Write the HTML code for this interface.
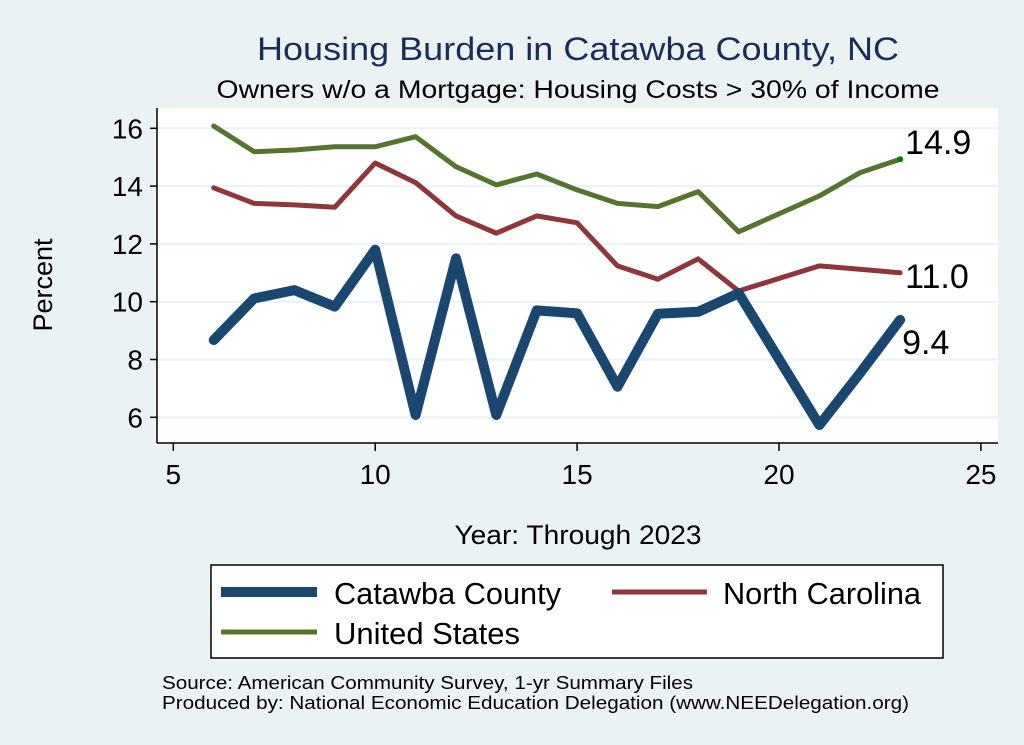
<!DOCTYPE html>
<html><head><meta charset="utf-8"><style>
html,body{margin:0;padding:0;background:#eaf2f3;}
svg{display:block;font-family:"Liberation Sans",Arial,sans-serif;}
</style></head><body>
<svg id="chart" width="1024" height="745" viewBox="0 0 1024 745">
<rect x="0" y="0" width="1024" height="745" fill="#eaf2f3"/>
<text x="578" y="60" text-anchor="middle" font-size="32" fill="#1a2d5a" textLength="642" lengthAdjust="spacingAndGlyphs">Housing Burden in Catawba County, NC</text>
<text x="578" y="98" text-anchor="middle" font-size="25" fill="#000" textLength="723" lengthAdjust="spacingAndGlyphs">Owners w/o a Mortgage: Housing Costs &gt; 30% of Income</text>
<rect x="157" y="108" width="841" height="335" fill="#fff"/>
<g id="grid"></g>
<g id="axes"></g>
<g id="series"></g>
<g id="labels"></g>
<text x="0" y="0" transform="translate(52,285) rotate(-90)" text-anchor="middle" font-size="27">Percent</text>
<text x="578" y="544" text-anchor="middle" font-size="27" textLength="247" lengthAdjust="spacingAndGlyphs">Year: Through 2023</text>
<g>
<rect x="211" y="565" width="732" height="93" fill="#fff" stroke="#000" stroke-width="1.5"/>
<line x1="221" y1="592" x2="317" y2="592" stroke="#1a476f" stroke-width="10"/>
<text x="334" y="604" font-size="31" textLength="227" lengthAdjust="spacingAndGlyphs">Catawba County</text>
<line x1="612" y1="592" x2="707" y2="592" stroke="#90353b" stroke-width="5"/>
<text x="723" y="604" font-size="31" textLength="198" lengthAdjust="spacingAndGlyphs">North Carolina</text>
<line x1="221" y1="632" x2="317" y2="632" stroke="#55752f" stroke-width="5"/>
<text x="334" y="644" font-size="31" textLength="186" lengthAdjust="spacingAndGlyphs">United States</text>
</g>
<text x="162" y="689" font-size="18" textLength="531" lengthAdjust="spacingAndGlyphs">Source: American Community Survey, 1-yr Summary Files</text>
<text x="162" y="709" font-size="18" textLength="747" lengthAdjust="spacingAndGlyphs">Produced by: National Economic Education Delegation (www.NEEDelegation.org)</text>
</svg>
<script>
const years = [6,7,8,9,10,11,12,13,14,15,16,17,18,19,21,22,23];
const catawba = [8.67,10.11,10.40,9.83,11.8,6.08,11.5,6.08,9.7,9.6,7.06,9.58,9.65,10.29,5.73,7.52,9.37];
const northCarolina = [13.94,13.4,13.35,13.27,14.8,14.12,12.97,12.37,12.97,12.73,11.24,10.78,11.48,10.37,11.24,11.12,11.0];
const unitedStates = [16.08,15.19,15.25,15.36,15.36,15.71,14.67,14.04,14.42,13.87,13.4,13.29,13.81,12.42,13.66,14.46,14.93];
const xTicks = [5,10,15,20,25];
const yTicks = [6,8,10,12,14,16];
const endLabels = ["9.4","11.0","14.9"];

const NS = "http://www.w3.org/2000/svg";
function xs(v){ return 173.3 + (v-5)*40.38; }
function ys(v){ return 128.3 + (16-v)*28.9; }
function mk(tag, attrs, parent){ const e=document.createElementNS(NS,tag); for(const k in attrs) e.setAttribute(k,attrs[k]); parent.appendChild(e); return e; }

const grid=document.getElementById('grid'), axes=document.getElementById('axes'), series=document.getElementById('series'), labels=document.getElementById('labels');
yTicks.forEach(t=>{
  const g=mk('line',{x1:157,x2:998,y1:ys(t),y2:ys(t),stroke:'#eaf2f3','stroke-width':2},grid);
  
  
  const tk=mk('line',{x1:150,x2:157,y1:ys(t),y2:ys(t),stroke:'#000','stroke-width':1.5},axes);
  
  
  const tx=mk('text',{x:143,y:ys(t)+10,'text-anchor':'end','font-size':28},axes);
  tx.textContent=t;
  
  
});
xTicks.forEach(t=>{
  const tk=mk('line',{x1:xs(t),x2:xs(t),y1:443,y2:451,stroke:'#000','stroke-width':1.5},axes);
  
  
  const tx=mk('text',{x:xs(t),y:484,'text-anchor':'middle','font-size':28},axes);
  tx.textContent=t;
  
  
});
const ya=mk('line',{x1:157,x2:157,y1:108,y2:443,stroke:'#000','stroke-width':1.5},axes);


const xa=mk('line',{x1:157,x2:998,y1:443,y2:443,stroke:'#000','stroke-width':1.5},axes);



function line(vals,color,w,name){
  const d=vals.map((v,i)=>(i?'L':'M')+xs(years[i]).toFixed(1)+','+ys(v).toFixed(1)).join(' ');
  const p=mk('path',{d:d,fill:'none',stroke:color,'stroke-width':w,'stroke-linejoin':'round','stroke-linecap':'round'},series);
  
  
}
line(unitedStates,'#55752f',5,'line-united-states');
line(northCarolina,'#90353b',5,'line-north-carolina');
line(catawba,'#1a476f',10,'line-catawba-county');
const dot=mk('circle',{cx:xs(years[years.length-1]),cy:ys(unitedStates[unitedStates.length-1]),r:3,fill:'#008000'},series);



const lastX=xs(years[years.length-1]);
const l1=mk('text',{x:lastX+2,y:ys(catawba[catawba.length-1])+34,'font-size':34},labels);
l1.textContent=endLabels[0];


const l2=mk('text',{x:lastX+5,y:ys(northCarolina[northCarolina.length-1])+15,'font-size':34},labels);
l2.textContent=endLabels[1];


const l3=mk('text',{x:lastX+5,y:ys(unitedStates[unitedStates.length-1])-5,'font-size':34},labels);
l3.textContent=endLabels[2];


</script>
</body></html>
